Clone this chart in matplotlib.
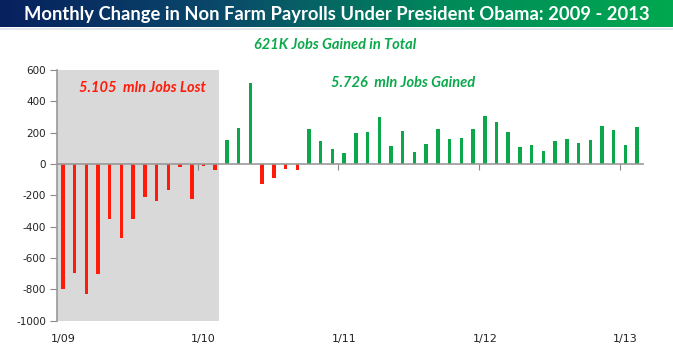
import numpy as np
import matplotlib
matplotlib.use("Agg")
import matplotlib.pyplot as plt
from matplotlib.colors import LinearSegmentedColormap
import matplotlib.transforms as mtransforms

# Monthly change in non-farm payrolls (thousands), Jan 2009 - Feb 2013
values = [-798, -694, -828, -702, -349, -470, -349, -209, -234, -166, -21, -221,
          -13, -40, 153, 232, 519, -126, -87, -32, -40, 226, 147, 98,
          68, 196, 202, 302, 117, 208, 74, 128, 221, 162, 168, 226,
          308, 268, 202, 107, 121, 81, 149, 162, 136, 156, 243, 215,
          119, 236]
year_labels = ["1/09", "1/10", "1/11", "1/12", "1/13"]
year_label_idx = [0, 12, 24, 36, 48]
yticks = [-1000, -800, -600, -400, -200, 0, 200, 400, 600]
title = "Monthly Change in Non Farm Payrolls Under President Obama: 2009 - 2013"

RED = "#FF1A0A"
GREEN = "#0AA84A"

W, H = 673, 363
fig = plt.figure(figsize=(W / 100, H / 100), dpi=100)
fig.patch.set_facecolor("white")

# title bar with gradient
tax = fig.add_axes([0, (H - 27) / H, 1, 27 / H])
cmap = LinearSegmentedColormap.from_list("tb", ["#07205E", "#0A4A6A", "#008A5A", "#00A84F"])
grad = np.linspace(0, 1, 256).reshape(1, -1)
tax.imshow(grad, aspect="auto", cmap=cmap, extent=[0, 1, 0, 1])
tax.set_xlim(0, 1)
tax.set_ylim(0, 1)
tax.axis("off")
tax.text(0.5, 0.47, title, color="white", fontsize=13.2, fontweight="bold",
         family="Lato", ha="center", va="center")
# thin light line under title
fig.add_artist(plt.Line2D([0, 1], [(H - 29) / H] * 2, color="#DDE3EA", lw=1.2))

ax = fig.add_axes([57 / W, (H - 320.7) / H, (643 - 57) / W, (320.7 - 70) / H])
n = len(values)
x = np.arange(n)
colors = [RED if v < 0 else GREEN for v in values]
ax.axvspan(-0.5, 13.3, color="#D9D9D9", zorder=0, lw=0)
ax.bar(x, values, width=0.3, color=colors, zorder=2)

ax.set_xlim(-0.5, n - 0.5)
ax.set_ylim(-1000, 600)
ax.set_yticks(yticks)
ax.set_yticklabels([str(t) for t in yticks], fontsize=7.5, color="#222222")
ax.tick_params(axis="y", direction="out", length=5, color="#888888", pad=3)

for s in ["top", "right"]:
    ax.spines[s].set_visible(False)
ax.spines["left"].set_color("#999999")
ax.spines["left"].set_linewidth(1.2)
ax.spines["bottom"].set_position(("data", 0))
ax.spines["bottom"].set_color("#999999")
ax.spines["bottom"].set_linewidth(1.2)
ax.set_xticks([i - 0.5 for i in year_label_idx[1:]])
ax.set_xticklabels([])
ax.tick_params(axis="x", direction="out", length=4, color="#888888")
ax.set_facecolor("white")

trans = mtransforms.blended_transform_factory(ax.transData, fig.transFigure)
for lab, idx in zip(year_labels, year_label_idx):
    ax.text(idx, (H - 339) / H, lab, transform=trans, ha="center", va="center",
            fontsize=8, color="#222222")

ax.text(6.8, 485, "5.105  mln Jobs Lost", color=RED, fontsize=10.5, fontweight="bold",
        style="italic", family="Lato", ha="center", va="center", zorder=3)
ax.text(29.0, 517, "5.726  mln Jobs Gained", color=GREEN, fontsize=10.5, fontweight="bold",
        style="italic", family="Lato", ha="center", va="center", zorder=3)
ax.text(23.2, 760, "621K Jobs Gained in Total", color=GREEN, fontsize=10.5, fontweight="bold",
        style="italic", family="Lato", ha="center", va="center", clip_on=False, zorder=3)

fig.savefig("out.png", dpi=100, facecolor="white")
